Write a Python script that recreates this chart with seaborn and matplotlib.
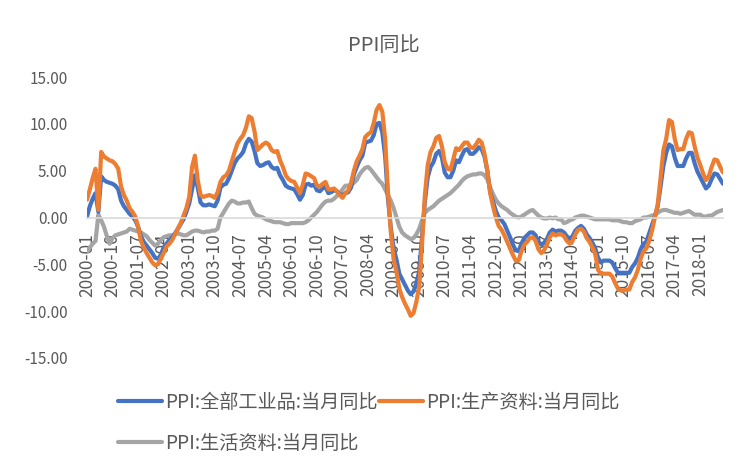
import numpy as np
import pandas as pd
import matplotlib
matplotlib.use("Agg")
import matplotlib.pyplot as plt
import seaborn as sns
from matplotlib.lines import Line2D
from matplotlib.ticker import FuncFormatter

# monthly values, 2000-01 .. 2018-09
all_ind = (
    [0.1, 1.2, 2.0, 2.6, 0.6, 4.4, 4.0, 3.8, 3.7, 3.6, 3.4, 3.0]          # 2000
    + [1.8, 1.2, 0.8, 0.4, 0.1, -0.3, -1.0, -2.0, -2.6, -3.0, -3.4, -3.8]  # 2001
    + [-4.3, -4.4, -4.0, -3.2, -2.8, -2.4, -2.1, -1.7, -1.2, -0.7, -0.2, 0.6]
    + [1.5, 3.0, 4.5, 3.2, 1.6, 1.3, 1.3, 1.4, 1.3, 1.2, 1.8, 3.2]
    + [3.5, 3.6, 4.2, 5.0, 5.8, 6.3, 6.6, 7.0, 7.9, 8.4, 8.1, 7.1]
    + [5.8, 5.5, 5.6, 5.8, 5.9, 5.4, 5.2, 5.3, 4.5, 4.0, 3.4, 3.2]
    + [3.1, 3.0, 2.5, 1.9, 2.4, 3.5, 3.6, 3.4, 3.5, 2.9, 2.8, 3.1]
    + [3.3, 2.6, 2.7, 2.9, 2.8, 2.5, 2.4, 2.6, 2.7, 3.2, 4.6, 5.4]
    + [6.1, 6.6, 8.0, 8.1, 8.2, 8.8, 10.0, 10.1, 9.1, 6.6, 2.0, -1.1]
    + [-3.3, -4.5, -6.0, -6.6, -7.2, -7.8, -8.2, -7.9, -7.0, -5.8, -2.1, 1.7]
    + [4.3, 5.4, 5.9, 6.8, 7.1, 6.4, 4.8, 4.3, 4.3, 5.0, 6.1, 5.9]
    + [6.6, 7.2, 7.3, 6.8, 6.8, 7.1, 7.5, 7.3, 6.5, 5.0, 2.7, 1.7]
    + [0.7, 0.0, -0.3, -0.7, -1.4, -2.1, -2.9, -3.5, -3.6, -2.8, -2.2, -1.9]
    + [-1.6, -1.6, -1.9, -2.6, -2.9, -2.7, -2.3, -1.6, -1.3, -1.5, -1.4, -1.4]
    + [-1.6, -2.0, -2.3, -2.0, -1.4, -1.1, -0.9, -1.2, -1.8, -2.2, -2.7, -3.3]
    + [-4.3, -4.8, -4.6, -4.6, -4.6, -4.8, -5.4, -5.9, -5.9, -5.9, -5.9, -5.9]
    + [-5.3, -4.9, -4.3, -3.4, -2.8, -2.6, -1.7, -0.8, 0.1, 1.2, 3.3, 5.5]
    + [6.9, 7.8, 7.6, 6.4, 5.5, 5.5, 5.5, 6.3, 6.9, 6.9, 5.8, 4.9]
    + [4.3, 3.7, 3.1, 3.4, 4.1, 4.7, 4.6, 4.1, 3.6]
)

producer = (
    [1.9, 3.0, 4.2, 5.2, 0.8, 7.0, 6.5, 6.3, 6.1, 6.0, 5.7, 5.2]
    + [3.3, 2.4, 1.8, 1.0, 0.6, 0.1, -1.0, -2.5, -3.2, -3.8, -4.3, -4.8]
    + [-5.1, -5.0, -4.4, -3.8, -3.1, -2.8, -2.4, -1.8, -1.2, -0.6, 0.2, 1.0]
    + [2.2, 5.4, 6.6, 4.0, 2.4, 2.2, 2.3, 2.4, 2.3, 2.1, 2.7, 3.8]
    + [4.3, 4.5, 5.0, 6.0, 7.0, 7.9, 8.4, 8.8, 9.6, 10.8, 10.6, 9.2]
    + [7.2, 7.5, 7.8, 8.0, 7.8, 7.2, 7.0, 7.1, 6.1, 5.4, 4.5, 4.1]
    + [3.9, 3.8, 3.2, 2.6, 3.5, 4.7, 4.6, 4.4, 4.2, 3.4, 3.3, 3.6]
    + [3.8, 3.0, 3.0, 3.1, 2.8, 2.4, 2.1, 2.6, 2.9, 3.7, 5.0, 6.0]
    + [6.6, 7.3, 8.6, 8.9, 9.1, 10.1, 11.5, 12.0, 11.3, 8.4, 2.7, -1.5]
    + [-4.5, -5.8, -7.6, -8.5, -9.2, -9.8, -10.5, -10.2, -9.0, -7.4, -2.8, 2.4]
    + [5.6, 7.0, 7.6, 8.5, 8.7, 7.6, 5.9, 5.2, 5.1, 6.2, 7.4, 7.2]
    + [7.6, 8.0, 8.0, 7.5, 7.4, 7.8, 8.3, 8.0, 6.8, 5.0, 2.6, 1.2]
    + [0.0, -0.9, -1.3, -1.9, -2.6, -3.3, -4.0, -4.6, -4.6, -3.6, -2.9, -2.6]
    + [-2.2, -2.1, -2.5, -3.4, -3.8, -3.5, -2.9, -2.1, -1.7, -1.9, -1.8, -1.8]
    + [-2.0, -2.5, -2.8, -2.5, -1.8, -1.3, -1.2, -1.5, -2.2, -2.6, -3.2, -3.9]
    + [-5.6, -6.0, -6.0, -6.0, -6.0, -6.3, -7.0, -7.6, -7.8, -7.8, -7.7, -7.7]
    + [-6.9, -6.4, -5.6, -4.4, -3.6, -3.3, -2.5, -1.4, 0.0, 1.4, 4.2, 7.2]
    + [8.4, 10.4, 10.2, 8.4, 7.2, 7.3, 7.3, 8.4, 9.1, 9.0, 7.6, 6.4]
    + [5.6, 4.7, 4.0, 4.4, 5.4, 6.2, 6.1, 5.4, 4.8]
)

consumer = (
    [-3.7, -3.2, -2.8, -2.5, 0.3, -0.3, -1.0, -2.0, -2.8, -2.2, -1.9, -1.8]
    + [-1.7, -1.6, -1.5, -1.2, -1.3, -1.4, -1.5, -1.6, -1.8, -2.0, -2.4, -2.7]
    + [-3.0, -2.8, -2.4, -2.1, -2.0, -1.9, -1.9, -1.8, -1.7, -1.8, -1.9, -1.9]
    + [-1.7, -1.5, -1.4, -1.4, -1.5, -1.6, -1.5, -1.5, -1.4, -1.4, -1.2, 0.0]
    + [0.5, 1.0, 1.5, 1.8, 1.7, 1.5, 1.5, 1.6, 1.6, 1.7, 1.0, 0.4]
    + [0.2, 0.1, 0.0, -0.2, -0.3, -0.4, -0.5, -0.5, -0.5, -0.6, -0.7, -0.7]
    + [-0.6, -0.6, -0.6, -0.6, -0.6, -0.5, -0.3, 0.0, 0.3, 0.6, 1.0, 1.4]
    + [1.7, 1.8, 1.8, 2.0, 2.3, 2.6, 3.0, 3.4, 3.4, 3.5, 3.7, 4.0]
    + [4.6, 5.0, 5.3, 5.4, 5.1, 4.7, 4.3, 3.9, 3.6, 3.0, 2.4, 1.8]
    + [1.0, 0.0, -1.0, -1.6, -1.9, -2.1, -2.3, -2.2, -1.8, -1.2, -0.3, 0.5]
    + [0.8, 1.0, 1.2, 1.5, 1.8, 2.0, 2.2, 2.4, 2.6, 2.9, 3.2, 3.5]
    + [3.9, 4.2, 4.4, 4.5, 4.6, 4.6, 4.7, 4.7, 4.5, 4.1, 3.2, 2.5]
    + [1.9, 1.5, 1.2, 1.0, 0.8, 0.5, 0.3, 0.1, 0.0, 0.1, 0.3, 0.5]
    + [0.7, 0.8, 0.5, 0.2, 0.0, -0.1, -0.1, 0.0, -0.1, 0.0, -0.2, -0.2]
    + [-0.6, -0.5, -0.3, -0.2, 0.0, 0.1, 0.2, 0.2, 0.1, 0.0, -0.1, -0.2]
    + [-0.2, -0.2, -0.2, -0.2, -0.2, -0.3, -0.3, -0.3, -0.4, -0.5, -0.5, -0.6]
    + [-0.6, -0.4, -0.3, -0.2, 0.0, 0.0, 0.1, 0.2, 0.3, 0.5, 0.7, 0.8]
    + [0.8, 0.7, 0.6, 0.5, 0.5, 0.4, 0.5, 0.6, 0.7, 0.5, 0.3, 0.3]
    + [0.3, 0.1, 0.1, 0.2, 0.2, 0.4, 0.6, 0.7, 0.8]
)

tick_labels = ["2000-01", "2000-10", "2001-07", "2002-04", "2003-01", "2003-10",
               "2004-07", "2005-04", "2006-01", "2006-10", "2007-07", "2008-04",
               "2009-01", "2009-10", "2010-07", "2011-04", "2012-01", "2012-10",
               "2013-07", "2014-04", "2015-01", "2015-10", "2016-07", "2017-04",
               "2018-01"]

names = ["PPI:全部工业品:当月同比", "PPI:生产资料:当月同比", "PPI:生活资料:当月同比"]
colors = ["#4472C4", "#ED7D31", "#A5A5A5"]

sns.set_style("white")
plt.rcParams["font.family"] = ["Noto Sans CJK SC", "DejaVu Sans"]
plt.rcParams["axes.unicode_minus"] = False

df = pd.DataFrame({"idx": np.arange(len(all_ind)),
                   names[0]: all_ind, names[1]: producer, names[2]: consumer})

fig = plt.figure(figsize=(7.47, 4.67), dpi=100)
ax = fig.add_axes([87 / 747, 1 - 358 / 467, (723 - 87) / 747, (358 - 77) / 467])

for name, c in zip([names[2], names[0], names[1]], [colors[2], colors[0], colors[1]]):
    sns.lineplot(data=df, x="idx", y=name, color=c, linewidth=3.0, ax=ax,
                 solid_capstyle="round", solid_joinstyle="round")

ax.set_xlim(0, len(all_ind) - 1)
ax.set_ylim(-15, 15)
ax.set_xlabel("")
ax.set_ylabel("")
ax.set_axisbelow(True)

for s in ["top", "right", "left"]:
    ax.spines[s].set_visible(False)
ax.spines["bottom"].set_position(("data", 0))
ax.spines["bottom"].set_color("#d9d9d9")
ax.spines["bottom"].set_linewidth(1.2)

ax.set_xticks(np.arange(0, len(all_ind), 9)[:len(tick_labels)])
ax.set_xticklabels(tick_labels, rotation=90, fontsize=12.5, color="#595959")
ax.tick_params(axis="x", direction="out", length=4, width=1, color="#d9d9d9", pad=7)

ax.set_yticks(np.arange(-15, 16, 5))
ax.yaxis.set_major_formatter(FuncFormatter(lambda v, p: f"{v:.2f}"))
ax.tick_params(axis="y", length=0, pad=14, labelsize=11, labelcolor="#595959")

fig.text(384 / 747, 1 - 45 / 467, "PPI同比", ha="center", va="center",
         fontsize=14.5, color="#595959")

handles = [Line2D([], [], color=colors[0], lw=3.0, solid_capstyle="round"),
           Line2D([], [], color=colors[2], lw=3.0, solid_capstyle="round"),
           Line2D([], [], color=colors[1], lw=3.0, solid_capstyle="round")]
labels = [names[0], names[2], names[1]]
fig.legend(handles, labels, ncol=2, loc="upper left",
           bbox_to_anchor=(118 / 747, 1 - 392 / 467), frameon=False,
           fontsize=13.8, labelcolor="#595959", handlelength=2.3,
           handletextpad=0.15, columnspacing=0.1, labelspacing=1.05,
           borderpad=0, borderaxespad=0)

fig.savefig("out.png", dpi=100)
